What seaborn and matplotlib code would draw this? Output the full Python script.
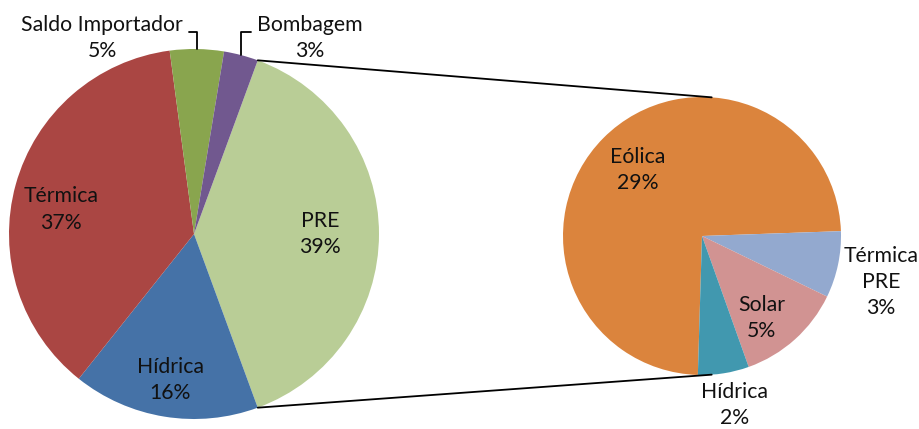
import numpy as np
import matplotlib
matplotlib.use("Agg")
import matplotlib.pyplot as plt
import seaborn as sns

# main pie (clockwise from the split-out slice)
main_labels = ["PRE", "Hídrica", "Térmica", "Saldo Importador", "Bombagem"]
main_values = [38.8, 16.3, 37.2, 4.7, 3.0]
main_colors = ["#B9CD96", "#4572A7", "#AA4643", "#89A54E", "#71588F"]

# secondary pie: breakdown of PRE (clockwise)
sub_labels = ["Eólica", "Térmica\nPRE", "Solar", "Hídrica"]
sub_values = [28.7, 3.0, 4.8, 2.3]
sub_colors = ["#DB843D", "#93A9CF", "#D19392", "#4198AF"]

sns.set_style("white")
plt.rcParams["font.family"] = ["Lato", "DejaVu Sans"]

W, H = 920, 429
fig = plt.figure(figsize=(W / 100, H / 100), dpi=100)
ax = fig.add_axes([0, 0, 1, 1])

c1, r1 = (194, 195), 185
c2, r2 = (702, 193), 139

# PRE centred on the right-hand side
start1 = 180 * main_values[0] / sum(main_values)
w1, _ = ax.pie(main_values, colors=main_colors, center=c1, radius=r1,
               startangle=start1, counterclock=False,
               wedgeprops=dict(linewidth=0), frame=True)

# secondary pie: Térmica PRE begins just above horizontal
start2 = 2 + 360 * sub_values[0] / sum(sub_values)
w2, _ = ax.pie(sub_values, colors=sub_colors, center=c2, radius=r2,
               startangle=start2, counterclock=False,
               wedgeprops=dict(linewidth=0), frame=True)
ax.set_xlim(0, W)
ax.set_ylim(0, H)
ax.set_aspect("equal")
ax.axis("off")


def mid(w):
    return np.deg2rad((w.theta1 + w.theta2) / 2)


def edge(c, r, a):
    return c[0] + r * np.cos(a), c[1] + r * np.sin(a)


fs = 15.3
lab_kw = dict(ha="center", va="center", fontsize=fs, linespacing=1.4, color="#111111")

# inside labels of the main pie (radial factor, angle offset in deg)
main_pos = {"PRE": (0.68, 0), "Hídrica": (0.80, 0), "Térmica": (0.73, 5)}
for w, lab, v in zip(w1, main_labels, main_values):
    if lab in main_pos:
        f, off = main_pos[lab]
        a = mid(w) + np.deg2rad(off)
        x, y = edge(c1, r1 * f, a)
        ax.text(x, y, f"{lab}\n{v:.0f}%", **lab_kw)

# small slices with leader lines
leader = {"Saldo Importador": ((102, 391), (1, 0.62)),
          "Bombagem": ((310, 391), (0, 0.62))}
for w, lab, v in zip(w1, main_labels, main_values):
    if lab in leader:
        pos, rel = leader[lab]
        ax.annotate(f"{lab}\n{v:.0f}%", xy=edge(c1, r1, mid(w)), xytext=pos,
                    arrowprops=dict(arrowstyle="-", color="black", lw=1.3,
                                    relpos=rel, shrinkA=2, shrinkB=0,
                                    connectionstyle="angle,angleA=0,angleB=90,rad=0"),
                    **lab_kw)

# secondary pie labels
sub_pos = {"Eólica": (0.66, -1), "Térmica\nPRE": (1.33, -2.5),
           "Solar": (0.73, -6), "Hídrica": (1.24, 2)}
for w, lab, v in zip(w2, sub_labels, sub_values):
    f, off = sub_pos[lab]
    x, y = edge(c2, r2 * f, mid(w) + np.deg2rad(off))
    ax.text(x, y, f"{lab}\n{v:.0f}%", **lab_kw)

# connector lines between the pies
pre = w1[0]
p_top = edge(c1, r1, np.deg2rad(pre.theta2))
p_bot = edge(c1, r1, np.deg2rad(pre.theta1))
q_top = edge(c2, r2, np.deg2rad(86))
q_bot = edge(c2, r2, np.deg2rad(-86))
ax.plot([p_top[0], q_top[0]], [p_top[1], q_top[1]], color="black", lw=1.3)
ax.plot([p_bot[0], q_bot[0]], [p_bot[1], q_bot[1]], color="black", lw=1.3)

fig.savefig("out.png", dpi=100)
